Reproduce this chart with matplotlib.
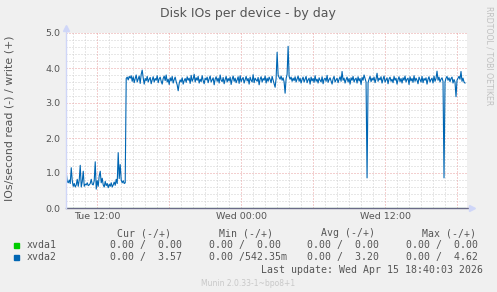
import numpy as np
import matplotlib
matplotlib.use("Agg")
import matplotlib.pyplot as plt

# data: 5 minute samples, first one Tue 09:25, last Wed 18:40 (hours since Tue 00:00)
start_hour = 9 + 25 / 60.0
step_hour = 5 / 60.0

xvda2_write = [
    # Tue 09:25 .. low period
    1.02, 0.76, 0.72, 0.80, 0.70, 1.15, 0.78, 0.62, 0.70, 0.60, 0.66, 0.82,
    0.62, 0.80, 1.22, 0.60, 0.75, 1.05, 0.62, 0.68, 0.66, 0.72, 0.64, 0.66,
    0.70, 0.82, 0.68, 0.66, 0.78, 1.32, 0.54, 0.78, 0.62, 0.92, 1.05, 0.72,
    0.85, 0.66, 0.60, 0.76, 0.64, 0.70, 0.58, 0.68, 0.62, 0.72, 0.60, 0.66,
    0.74, 0.65, 0.82, 0.70, 1.58, 0.84, 1.24, 0.80, 0.72, 0.78, 0.70, 0.72,
    # step up
    3.70, 3.74, 3.66, 3.76, 3.71, 3.78, 3.62, 3.75, 3.58, 3.70, 3.80, 3.60,
    3.69, 3.77, 3.56, 3.82, 3.94, 3.72, 3.54, 3.70, 3.64, 3.76, 3.60, 3.68,
    3.73, 3.55, 3.66, 3.75, 3.60, 3.70, 3.65, 3.78, 3.58, 3.69, 3.74, 3.62,
    3.54, 3.70, 3.77, 3.64, 3.80, 3.60, 3.68, 3.53, 3.72, 3.63, 3.76, 3.57,
    3.67, 3.74, 3.61, 3.52, 3.35, 3.56, 3.66, 3.60, 3.72, 3.54, 3.64, 3.70,
    3.59, 3.75, 3.65, 3.71, 3.56, 3.79, 3.62, 3.69, 3.82, 3.60, 3.72, 3.65,
    3.76, 3.57, 3.68, 3.61, 3.78, 3.64, 3.55, 3.71, 3.66, 3.74, 3.58, 3.69,
    3.77, 3.60, 3.66, 3.72, 3.52, 3.68, 3.75, 3.62, 3.71, 3.57, 3.80, 3.65,
    3.61, 3.73, 3.55, 3.67, 3.76, 3.60, 3.70, 3.63, 3.74, 3.53, 3.68, 3.77,
    3.62, 3.71, 3.58, 3.66, 3.75, 3.56, 3.78, 3.61, 3.68, 3.73, 3.57, 3.67,
    3.76, 3.63, 3.70, 3.54, 3.74, 3.65, 3.60, 3.81, 3.58, 3.71, 3.66, 3.62,
    3.73, 3.52, 3.68, 3.75, 3.60, 3.70, 3.65, 3.77, 3.57, 3.71, 3.62, 3.74,
    3.67, 3.58, 3.76, 3.65, 3.55, 3.45, 3.70, 4.45, 3.80, 3.73, 3.68, 3.77,
    3.65, 3.72, 3.60, 3.28, 3.70, 3.82, 4.62, 3.76, 3.68, 3.74, 3.62, 3.71,
    3.64, 3.75, 3.60, 3.69, 3.77, 3.62, 3.71, 3.57, 3.67, 3.74, 3.60, 3.68,
    3.76, 3.58, 3.66, 3.71, 3.54, 3.74, 3.63, 3.70, 3.59, 3.78, 3.62, 3.68,
    3.57, 3.72, 3.65, 3.60, 3.75, 3.55, 3.68, 3.71, 3.62, 3.79, 3.59, 3.67,
    3.72, 3.63, 3.54, 3.69, 3.76, 3.60, 3.66, 3.71, 3.58, 3.68, 3.75, 3.62,
    3.90, 3.65, 3.71, 3.57, 3.67, 3.74, 3.60, 3.70, 3.54, 3.72, 3.65, 3.76,
    3.60, 3.68, 3.71, 3.57, 3.75, 3.63, 3.70, 3.53, 3.73, 3.65, 3.80, 3.70,
    3.60, 0.86, 3.58, 3.68, 3.76, 3.61, 3.71, 3.65, 3.74, 3.58, 3.69, 3.85,
    3.62, 3.71, 3.66, 3.75, 3.57, 3.68, 3.77, 3.60, 3.66, 3.72, 3.55, 3.69,
    3.74, 3.62, 3.68, 3.58, 3.76, 3.65, 3.71, 3.54, 3.67, 3.75, 3.61, 3.70,
    3.57, 3.72, 3.65, 3.77, 3.60, 3.68, 3.71, 3.53, 3.75, 3.63, 3.70, 3.59,
    3.78, 3.62, 3.71, 3.65, 3.55, 3.74, 3.67, 3.60, 3.76, 3.58, 3.70, 3.65,
    3.72, 3.54, 3.68, 3.75, 3.60, 3.67, 3.71, 3.57, 3.77, 3.62, 3.70, 3.91,
    3.65, 3.74, 3.60, 3.68, 3.72, 3.62, 0.86, 3.60, 3.71, 3.76, 3.65, 3.72,
    3.61, 3.70, 3.74, 3.57, 3.67, 3.60, 3.18, 3.65, 3.71, 3.76, 3.68, 3.90,
    3.62, 3.71, 3.60, 3.57,
]
n = len(xvda2_write)
xvda1_write = [0.0] * n

hours = start_hour + step_hour * np.arange(n)

tick_hours = [12, 24, 36]
tick_labels = ["Tue 12:00", "Wed 00:00", "Wed 12:00"]

legend_names = ["xvda1", "xvda2"]
legend_colors = ["#00CC00", "#0066B3"]
legend_cur = ["0.00 /  0.00", "0.00 /  3.57"]
legend_min = ["0.00 /  0.00", "0.00 /542.35m"]
legend_avg = ["0.00 /  0.00", "0.00 /  3.20"]
legend_max = ["0.00 /  0.00", "0.00 /  4.62"]

W, H = 497, 292
fig = plt.figure(figsize=(W / 100, H / 100), dpi=100)
fig.patch.set_facecolor("#F0F0F0")

def px(x, y):
    return x / W, 1 - y / H

left, right, top, bottom = 66, 467, 33, 208
ax = fig.add_axes([left / W, 1 - bottom / H, (right - left) / W, (bottom - top) / H])
ax.set_facecolor("white")
ax.set_xlim(start_hour - 0.02, start_hour + (right - left) / 12.0)
ax.set_ylim(0, 5.0)
for s in ax.spines.values():
    s.set_visible(False)

# grid
for hx in range(10, 43):
    c, z = ("#E8A0A0", 1.2) if hx % 6 == 0 else ("#D0D0D0", 1)
    ax.axvline(hx, color=c, lw=0.72, ls=(0, (1, 2)), zorder=z)
for k in range(1, 26):
    yv = k * 0.2
    c, z = ("#E8A0A0", 1.2) if k % 5 == 0 else ("#D0D0D0", 1)
    ax.axhline(yv, color=c, lw=0.72, ls=(0, (1, 2)), zorder=z)

ax.plot(hours, xvda1_write, color=legend_colors[0], lw=0.8, zorder=3)
ax.plot(hours, xvda2_write, color=legend_colors[1], lw=0.8, zorder=4)
ax.axhline(0, color="#6A6A88", lw=1.0, zorder=5)

ax.set_xticks(tick_hours)
ax.set_xticklabels(tick_labels)
ax.set_yticks([0, 1, 2, 3, 4, 5])
ax.set_yticklabels(["%.1f" % v for v in [0, 1, 2, 3, 4, 5]])
ax.tick_params(length=0, labelsize=6.8, colors="#555555", pad=4)
ax.tick_params(axis="x", pad=3)

# axis lines with arrows
fig.add_artist(plt.Line2D([66 / W, 66 / W], [1 - 208 / H, 1 - 29 / H], color="#CFD6F8", lw=1))
fig.add_artist(plt.Line2D([66 / W, 470 / W], [1 - 208 / H, 1 - 208 / H], color="#6A6A88", lw=1, zorder=0))
fig.add_artist(plt.Line2D([66 / W], [1 - 28 / H], marker="^", ms=4, color="#CFD6F8", lw=0))
fig.add_artist(plt.Line2D([472 / W], [1 - 208 / H], marker=">", ms=4, color="#CFD6F8", lw=0))

fc = "#555555"
fig.text(*px(248, 13), "Disk IOs per device - by day", ha="center", va="center", fontsize=9, color=fc)
fig.text(*px(10, 118), "IOs/second read (-) / write (+)", ha="center", va="center",
         rotation=90, fontsize=7.9, color=fc)
fig.text(*px(489, 56), "RRDTOOL / TOBI OETIKER", ha="center", va="center",
         rotation=270, fontsize=5.6, color="#C0C0C0")

mono = "DejaVu Sans Mono"
lf = 7.1
fig.text(*px(117, 233), "Cur (-/+)", ha="left", va="center", fontsize=lf, family=mono, color=fc)
fig.text(*px(219, 233), "Min (-/+)", ha="left", va="center", fontsize=lf, family=mono, color=fc)
fig.text(*px(321, 233), "Avg (-/+)", ha="left", va="center", fontsize=lf, family=mono, color=fc)
fig.text(*px(422, 233), "Max (-/+)", ha="left", va="center", fontsize=lf, family=mono, color=fc)
for i, name in enumerate(legend_names):
    yy = 245 + i * 12
    fig.patches.append(plt.Rectangle(px(14, yy + 2.5), 5 / W, 5 / H, transform=fig.transFigure,
                                     color=legend_colors[i], figure=fig))
    fig.text(*px(27, yy), name, ha="left", va="center", fontsize=lf, family=mono, color=fc)
    fig.text(*px(110, yy), legend_cur[i], ha="left", va="center", fontsize=lf, family=mono, color=fc)
    fig.text(*px(209, yy), legend_min[i], ha="left", va="center", fontsize=lf, family=mono, color=fc)
    fig.text(*px(307, yy), legend_avg[i], ha="left", va="center", fontsize=lf, family=mono, color=fc)
    fig.text(*px(406, yy), legend_max[i], ha="left", va="center", fontsize=lf, family=mono, color=fc)
fig.text(*px(483, 270), "Last update: Wed Apr 15 18:40:03 2026", ha="right", va="center",
         fontsize=lf, family=mono, color=fc)
fig.text(*px(248, 283), "Munin 2.0.33-1~bpo8+1", ha="center", va="center", fontsize=5.5, color="#C8C8C8")

fig.savefig("out.png", dpi=100, facecolor=fig.get_facecolor())
